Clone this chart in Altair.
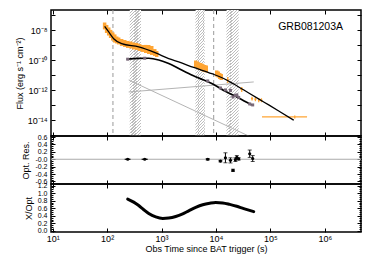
import altair as alt
import pandas as pd

FONT = "Liberation Sans"
ORANGE = "#ffa533"
OPT_COLOR = "#7a6a7a"
SUP = str.maketrans("-0123456789", "⁻⁰¹²³⁴⁵⁶⁷⁸⁹")

# ---------------- data ----------------
# X-ray light curve, dense part: time (s), flux (erg s-1 cm-2), half error (dex)
xrt_dense_t = [90, 98, 107, 116, 127, 138, 150, 163, 185, 211, 239, 272, 308, 350, 397, 451,
               513, 582, 661, 750, 816,
               4256, 4530, 4830, 5140, 5480, 5840, 6220, 6640,
               10350, 11000, 11740, 12510]
xrt_dense_f = [1.94e-8, 1.22e-8, 8.3e-9, 5.7e-9, 3.86e-9, 2.84e-9, 2.26e-9, 1.94e-9, 1.54e-9,
               1.32e-9, 1.13e-9, 1.05e-9, 8.98e-10, 8.3e-10, 7.1e-10, 6.1e-10, 5.67e-10, 5.25e-10,
               4.5e-10, 3.3e-10, 2.63e-10,
               5.67e-11, 4.86e-11, 4.17e-11, 3.86e-11, 3.58e-11, 3.07e-11, 2.84e-11, 2.63e-11,
               1.32e-11, 1.13e-11, 8.98e-12, 7.7e-12]
xrt_dense_e = [0.23, 0.27, 0.27, 0.27, 0.27, 0.27, 0.23, 0.23, 0.23, 0.23, 0.23, 0.23, 0.23,
               0.23, 0.23, 0.23, 0.27, 0.30, 0.30, 0.23, 0.20,
               0.23, 0.23, 0.23, 0.23, 0.23, 0.23, 0.23, 0.23,
               0.20, 0.20, 0.20, 0.20]

# X-ray light curve, sparse late points
xrt_sp_t = [16480, 29800, 46100, 53200, 61200, 68600, 281000]
xrt_sp_f = [4.86e-12, 1.13e-12, 2.77e-13, 2.51e-13, 2.15e-13, 2.15e-13, 1.66e-14]
xrt_sp_e = [0.20, 0.17, 0.13, 0.13, 0.13, 0.13, 0.10]
xrt_sp_tlo = [15500, 28000, 44000, 51000, 59000, 66000, 70300]
xrt_sp_thi = [17500, 31700, 48300, 55500, 63500, 71300, 473000]

# X-ray model
xmod_t = [90, 107, 132, 185, 381, 782, 1356, 2070, 3910, 8380, 13900, 21200, 40100, 75600,
          142600, 269000]
xmod_f = [1.85e-8, 7.7e-9, 2.75e-9, 1.28e-9, 7.7e-10, 3.07e-10, 1.28e-10, 7.7e-11, 3.31e-11,
          1.28e-11, 6.1e-12, 2.63e-12, 6.6e-13, 1.66e-13, 4.17e-14, 1.0e-14]

# optical model
omod_t = [229, 381, 582, 889, 1356, 2070, 3160, 4830, 8380, 13900, 26200, 45500]
omod_f = [1.17e-10, 1.32e-10, 1.36e-10, 1.05e-10, 6.1e-11, 2.84e-11, 1.32e-11, 6.6e-12,
          2.84e-12, 9.7e-13, 3.07e-13, 1.05e-13]

# model components (grey)
compA_t = [249, 49560]
compA_f = [4.86e-12, 6.2e-16]
compB_t = [249, 49560]
compB_f = [7.7e-13, 3.58e-12]

# vertical dashed lines and hatched intervals
dash_t = [128, 9100]
band_start = [260, 4200, 15600]
band_end = [420, 6220, 26200]

# optical data
opt_t = [239, 491, 7060, 12100, 14950, 18500, 20600, 22800, 24200, 26200, 41800, 47400]
opt_f = [1.18e-10, 1.36e-10, 4.17e-12, 1.42e-12, 1.05e-12, 9.7e-13, 3.58e-13, 4.5e-13,
         4.86e-13, 3.31e-13, 1.22e-13, 1.05e-13]

# optical residuals
res_v = [0.0, 0.0, 0.0, -0.05, 0.04, -0.03, -0.30, -0.01, 0.05, 0.01, 0.15, 0.02]
res_e = [0.0, 0.0, 0.02, 0.02, 0.135, 0.07, 0.03, 0.05, 0.05, 0.03, 0.10, 0.08]
res_early_t = [239, 491]
res_early_tlo = [210, 430]
res_early_thi = [270, 560]

# X / Opt ratio
ratio_t = [239, 308, 381, 471, 582, 782, 1052, 1356, 1824, 2453, 3162, 4254, 5721, 7696, 9907,
           13326, 17926, 24110, 32430, 40090, 49560]
ratio_v = [0.84, 0.76, 0.67, 0.56, 0.46, 0.37, 0.33, 0.34, 0.38, 0.45, 0.53, 0.62, 0.69, 0.73,
           0.75, 0.74, 0.70, 0.65, 0.59, 0.55, 0.51]

X_TICKS = [10, 100, 1e3, 1e4, 1e5, 1e6]
TOP_Y_TICKS = [1e-15, 1e-14, 1e-13, 1e-12, 1e-11, 1e-10, 1e-9, 1e-8, 1e-7]
TOP_Y_LABELED = [-14, -12, -10, -8]
MID_MAJOR = [-0.6, -0.4, -0.2, 0.0, 0.2, 0.4, 0.6]
MID_MINOR = [round(-0.65 + 0.05 * i, 2) for i in range(27)]
BOT_MAJOR = [0.0, 0.2, 0.4, 0.6, 0.8, 1.0, 1.2]
BOT_MINOR = [round(0.05 * i, 2) for i in range(25)]

# ---------------- frames ----------------
def err_frame(t, f, e):
    return pd.DataFrame({"t": t, "f": f,
                         "lo": [a / 10 ** b for a, b in zip(f, e)],
                         "hi": [a * 10 ** b for a, b in zip(f, e)]})

df_dense = err_frame(xrt_dense_t, xrt_dense_f, xrt_dense_e)
df_sp = err_frame(xrt_sp_t, xrt_sp_f, xrt_sp_e)
df_sp["tlo"] = xrt_sp_tlo
df_sp["thi"] = xrt_sp_thi
df_xmod = pd.DataFrame({"t": xmod_t, "f": xmod_f})
df_omod = pd.DataFrame({"t": omod_t, "f": omod_f})
df_compA = pd.DataFrame({"t": compA_t, "f": compA_f})
df_compB = pd.DataFrame({"t": compB_t, "f": compB_f})
df_dash = pd.DataFrame({"t": dash_t})
df_bands = pd.DataFrame({"start": band_start, "end": band_end})
df_opt = pd.DataFrame({"t": opt_t, "f": opt_f})
df_res = pd.DataFrame({"t": opt_t, "v": res_v,
                       "lo": [v - e for v, e in zip(res_v, res_e)],
                       "hi": [v + e for v, e in zip(res_v, res_e)]})
df_res_early = pd.DataFrame({"t": res_early_t, "tlo": res_early_tlo, "thi": res_early_thi,
                             "v": [0.0, 0.0]})
df_ratio = pd.DataFrame({"t": ratio_t, "v": ratio_v})
df_zero = pd.DataFrame({"v": [0.0]})
df_label = pd.DataFrame({"label": ["GRB081203A"]})
dummy_top = pd.DataFrame({"t": [1000.0], "f": [1e-10]})
dummy_lin = pd.DataFrame({"t": [1000.0], "v": [0.5]})

# ---------------- scales & axes ----------------
W = 310
H_TOP, H_MID, H_BOT = 126, 48, 48
xs = alt.Scale(type="log", domain=[9.3, 4.64e6], nice=False)
ys_top = alt.Scale(type="log", domain=[8.9e-16, 2.25e-7], nice=False)
ys_mid = alt.Scale(domain=[-0.67, 0.63], nice=False, zero=False)
ys_bot = alt.Scale(domain=[-0.03, 1.24], nice=False, zero=False)


def pow_expr(exps):
    expr = "''"
    for e in reversed(exps):
        expr = (f"(round(log(datum.value)/LN10) == {e} ? "
                f"'10{str(e).translate(SUP)}' : {expr})")
    return expr


def axis(orient, values, size, **kw):
    base = dict(orient=orient, values=values, tickSize=size, offset=-size, domain=False,
                grid=False, ticks=True, tickColor="black", tickWidth=1, minExtent=0,
                labelFlush=False, labelOverlap=False, labels=False)
    base.update(kw)
    return alt.Axis(**base)


def X(field="t:Q", ax=None):
    if ax is None:
        return alt.X(field, scale=xs, axis=None)
    return alt.X(field, scale=xs, axis=ax, title=None)


# hatch pattern as a striped gradient
HATCH = "#bdbdbd"
p = 0.0219
stops = []
k = 0
while k * p < 1:
    a = round(k * p, 4)
    b = round(min(k * p + 0.38 * p, 1), 4)
    c = round(min((k + 1) * p, 1), 4)
    stops += [alt.GradientStop(color=HATCH, offset=a), alt.GradientStop(color=HATCH, offset=b),
              alt.GradientStop(color="#ffffff", offset=b), alt.GradientStop(color="#ffffff", offset=c)]
    k += 1
hatch = alt.Gradient(gradient="linear", stops=stops, x1=0, y1=0, x2=0.094, y2=1.08)

# ---------------- top panel ----------------
Yt = lambda f: alt.Y(f, scale=ys_top, axis=None)
top_layers = [
    alt.Chart(df_bands).mark_rect(fill=hatch, clip=True).encode(
        x=alt.X("start:Q", scale=xs, axis=None), x2="end:Q"),
    alt.Chart(df_dash).mark_rule(color="#9a9a9a", strokeDash=[4, 3], strokeWidth=1).encode(x=X()),
    alt.Chart(df_compA).mark_line(color="#b4b4b4", strokeWidth=1, clip=True).encode(x=X(), y=Yt("f:Q")),
    alt.Chart(df_compB).mark_line(color="#b4b4b4", strokeWidth=1, clip=True).encode(x=X(), y=Yt("f:Q")),
    alt.Chart(df_dense).mark_rule(color=ORANGE, strokeWidth=3.5, clip=True).encode(
        x=X(), y=Yt("lo:Q"), y2="hi:Q"),
    alt.Chart(df_sp).mark_rule(color=ORANGE, strokeWidth=1.3, clip=True).encode(
        x=X(), y=Yt("lo:Q"), y2="hi:Q"),
    alt.Chart(df_sp).mark_rule(color=ORANGE, strokeWidth=1.3, clip=True).encode(
        x=X("tlo:Q"), x2="thi:Q", y=Yt("f:Q")),
    alt.Chart(df_xmod).mark_line(color="black", strokeWidth=1.3, interpolate="monotone", clip=True).encode(
        x=X(), y=Yt("f:Q")),
    alt.Chart(df_omod).mark_line(color="black", strokeWidth=1.7, interpolate="monotone", clip=True).encode(
        x=X(), y=Yt("f:Q")),
    alt.Chart(df_opt).mark_square(size=9, color=OPT_COLOR, opacity=1, clip=True).encode(
        x=X(), y=Yt("f:Q")),
    alt.Chart(df_label).mark_text(align="right", baseline="middle", font=FONT, fontSize=10.5,
                                  color="black").encode(text="label:N", x=alt.value(292), y=alt.value(17)),
    alt.Chart(dummy_top).mark_point(opacity=0).encode(
        x=X("t:Q", axis("bottom", X_TICKS, 4)),
        y=alt.Y("f:Q", scale=ys_top,
                axis=axis("left", TOP_Y_TICKS, 4, labels=True, labelExpr=pow_expr(TOP_Y_LABELED),
                          labelPadding=4, title="Flux (erg s⁻¹ cm⁻²)", titlePadding=3))),
    alt.Chart(dummy_top).mark_point(opacity=0).encode(
        x=X("t:Q", axis("top", X_TICKS, 4)),
        y=alt.Y("f:Q", scale=ys_top, axis=axis("right", TOP_Y_TICKS, 4), title=None)),
]
top = alt.layer(*top_layers).resolve_axis(x="independent", y="independent").properties(
    width=W, height=H_TOP)


def lin_axes(ys, major, minor, title, bottom_ax):
    lab = ("abs(datum.value) < 1e-9 ? '-0.0' : (datum.value < 0 ? '-' : '') + "
           "format(abs(datum.value), '.1f')") if title.startswith("Opt") else "format(datum.value, '.1f')"
    return [
        alt.Chart(dummy_lin).mark_point(opacity=0).encode(
            x=X("t:Q", bottom_ax),
            y=alt.Y("v:Q", scale=ys,
                    axis=axis("left", major, 4, labels=True, labelExpr=lab, labelPadding=4,
                              labelFontSize=7, title=title, titlePadding=4))),
        alt.Chart(dummy_lin).mark_point(opacity=0).encode(
            x=X("t:Q", axis("top", X_TICKS, 4)),
            y=alt.Y("v:Q", scale=ys, axis=axis("right", major, 4), title=None)),
        alt.Chart(dummy_lin).mark_point(opacity=0).encode(
            y=alt.Y("v:Q", scale=ys, axis=axis("left", minor, 2), title=None)),
        alt.Chart(dummy_lin).mark_point(opacity=0).encode(
            y=alt.Y("v:Q", scale=ys, axis=axis("right", minor, 2), title=None)),
    ]


# ---------------- middle panel ----------------
Ym = lambda f: alt.Y(f, scale=ys_mid, axis=None)
mid_layers = [
    alt.Chart(df_zero).mark_rule(color="#aaaaaa", strokeWidth=1).encode(y=Ym("v:Q")),
    alt.Chart(df_res).mark_rule(color="black", strokeWidth=1).encode(x=X(), y=Ym("lo:Q"), y2="hi:Q"),
    alt.Chart(df_res).mark_tick(orient="horizontal", size=4, thickness=1, color="black").encode(
        x=X(), y=Ym("lo:Q")),
    alt.Chart(df_res).mark_tick(orient="horizontal", size=4, thickness=1, color="black").encode(
        x=X(), y=Ym("hi:Q")),
    alt.Chart(df_res_early).mark_rule(color="black", strokeWidth=1).encode(
        x=X("tlo:Q"), x2="thi:Q", y=Ym("v:Q")),
    alt.Chart(df_res).mark_circle(size=10, color="black", opacity=1).encode(x=X(), y=Ym("v:Q")),
] + lin_axes(ys_mid, MID_MAJOR, MID_MINOR, "Opt. Res.", axis("bottom", X_TICKS, 4))
mid = alt.layer(*mid_layers).resolve_axis(x="independent", y="independent").properties(
    width=W, height=H_MID)

# ---------------- bottom panel ----------------
bot_x_axis = axis("bottom", X_TICKS, 4, labels=True, labelExpr=pow_expr([1, 2, 3, 4, 5, 6]),
                  labelPadding=2, title="Obs Time since BAT trigger (s)", titlePadding=1)
bot_layers = [
    alt.Chart(df_ratio).mark_line(color="black", strokeWidth=3, interpolate="monotone",
                                  strokeCap="round").encode(x=X(), y=alt.Y("v:Q", scale=ys_bot, axis=None)),
] + lin_axes(ys_bot, BOT_MAJOR, BOT_MINOR, "X/Opt", bot_x_axis)
bot = alt.layer(*bot_layers).resolve_axis(x="independent", y="independent").properties(
    width=W, height=H_BOT)

chart = alt.vconcat(top, mid, bot, spacing=0, bounds="flush").properties(
    padding={"left": 6, "top": 0, "right": 0, "bottom": 0}, background="white"
).configure_view(stroke="black", strokeWidth=1.5).configure_axis(
    labelFont=FONT, titleFont=FONT, labelFontSize=9, titleFontSize=9, labelColor="black",
    titleColor="black", titleFontWeight="normal")

chart.save("out.html", embed_options={"renderer": "svg", "actions": False})
